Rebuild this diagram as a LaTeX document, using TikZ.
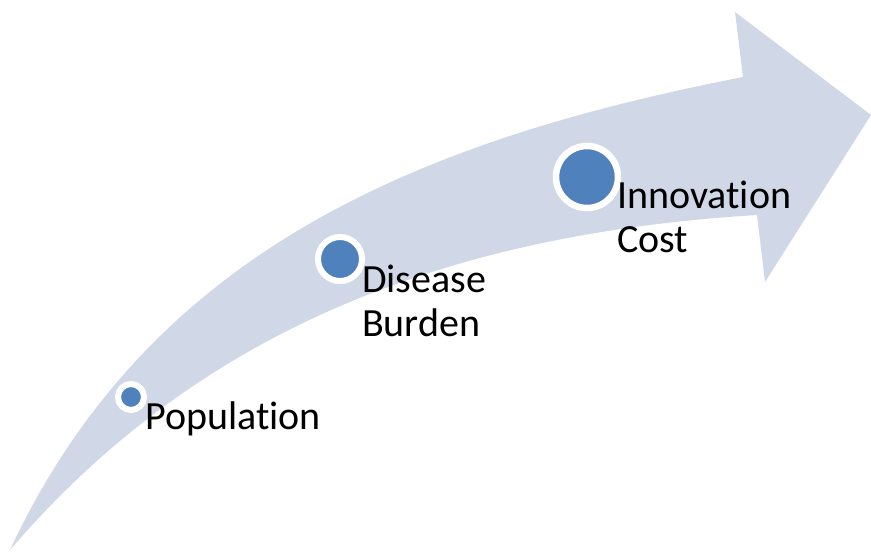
\documentclass[tikz,border=0pt]{standalone}
\usepackage{fontspec}
\setmainfont{Carlito}[Ligatures=CommonOff]
\definecolor{bandblue}{HTML}{D0D8E8}
\definecolor{dotblue}{HTML}{4F81BD}
\begin{document}
\begin{tikzpicture}[x=1pt,y=-1pt,
  dot/.style={circle,fill=dotblue,draw=white,line width=#1,inner sep=0pt},
  lbl/.style={anchor=base west,inner sep=0pt,align=left,
    font=\fontsize{40}{44}\selectfont}]
\useasboundingbox (0,0) rectangle (871,552);
% curved arrow band
\fill[bandblue]
  (10,550) .. controls (150,250) and (420,140) .. (743,77)
  -- (735,12) -- (871,115) -- (765,282) -- (757,215)
  .. controls (430,235) and (190,340) .. (10,550)
  -- cycle;
% milestones
\node[dot=6pt,minimum size=26pt] (pop) at (131,397) {};
\node[dot=6pt,minimum size=44pt] (dis) at (340,259) {};
\node[dot=6.5pt,minimum size=62pt] (inn) at (587,177) {};
\node[lbl] (popl) at (145,429) {Population};
\node[lbl] (disl) at (362,336) {Disease\\Burden};
\node[lbl] (innl) at (617,252) {Innovation\\Cost};
\end{tikzpicture}
\end{document}
